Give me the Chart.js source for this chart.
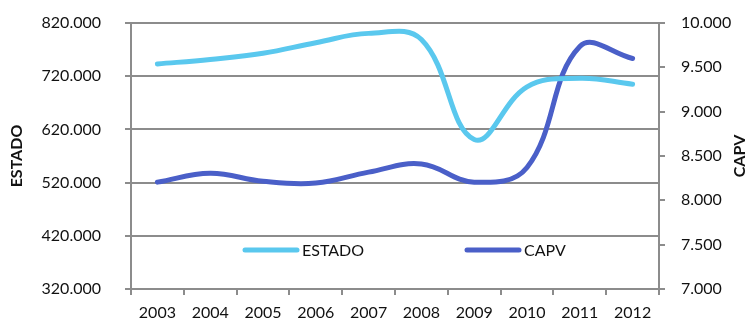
<!DOCTYPE html>
<html>
<head>
<meta charset="utf-8">
<script src="https://cdn.jsdelivr.net/npm/chart.js@4/dist/chart.umd.min.js"></script>
<style>
  html, body { margin: 0; padding: 0; background: #ffffff; }
  #wrap { width: 755px; height: 320px; position: relative; }
</style>
</head>
<body>
<div id="wrap"><canvas id="c" width="755" height="320"></canvas></div>
<script>
const years = ['2003','2004','2005','2006','2007','2008','2009','2010','2011','2012'];
const estado = [743000, 751500, 763000, 783000, 800500, 789000, 601000, 700000, 716000, 705000];
const capv = [8205, 8305, 8215, 8195, 8318, 8410, 8205, 8370, 9735, 9600];
const estadoTicks = [320000, 420000, 520000, 620000, 720000, 820000];
const capvTicks = [7000, 7500, 8000, 8500, 9000, 9500, 10000];
const axisTitles = ['ESTADO', 'CAPV'];

const FONT = 'Lato, "Open Sans", sans-serif';
const GRID = '#8c8c8c';
const fmt = v => Math.round(v).toString().replace(/\B(?=(\d{3})+(?!\d))/g, '.');
const noPad = s => { s.paddingTop = 0; s.paddingBottom = 0; s.paddingLeft = 0; s.paddingRight = 0; };

const extras = {
  id: 'extras',
  afterDatasetsDraw(chart) {
    const ctx = chart.ctx;
    const area = chart.chartArea;
    const y = 250;
    const starts = [243, 465];
    ctx.save();
    chart.data.datasets.forEach((ds, i) => {
      const x = starts[i];
      ctx.strokeStyle = ds.borderColor;
      ctx.lineWidth = 5;
      ctx.lineCap = 'round';
      ctx.beginPath();
      ctx.moveTo(x + 2, y);
      ctx.lineTo(x + 54, y);
      ctx.stroke();
      ctx.fillStyle = '#111111';
      ctx.font = '16px ' + FONT;
      ctx.textBaseline = 'middle';
      ctx.textAlign = 'left';
      ctx.fillText(ds.label, x + 59, y + 1);
    });
    const cy = (area.top + area.bottom) / 2;
    [[17, axisTitles[0]], [740, axisTitles[1]]].forEach(([tx, txt]) => {
      ctx.save();
      ctx.translate(tx, cy);
      ctx.rotate(-Math.PI / 2);
      ctx.font = 'bold 16px ' + FONT;
      ctx.fillStyle = '#111111';
      ctx.textAlign = 'center';
      ctx.textBaseline = 'middle';
      ctx.fillText(txt, 0, 0);
      ctx.restore();
    });
    ctx.restore();
  }
};

new Chart(document.getElementById('c'), {
  type: 'line',
  data: {
    labels: years,
    datasets: [
      { label: 'ESTADO', data: estado, yAxisID: 'y', borderColor: '#5AC8EE', backgroundColor: '#5AC8EE',
        borderWidth: 5, pointRadius: 0, tension: 0.4, borderCapStyle: 'round', fill: false },
      { label: 'CAPV', data: capv, yAxisID: 'y1', borderColor: '#4A5FC8', backgroundColor: '#4A5FC8',
        borderWidth: 5, pointRadius: 0, tension: 0.4, borderCapStyle: 'round', fill: false }
    ]
  },
  options: {
    responsive: false,
    animation: false,
    devicePixelRatio: 1,
    layout: { padding: { top: 23, left: 0, right: 0, bottom: 0 } },
    plugins: { legend: { display: false }, tooltip: { enabled: false } },
    scales: {
      x: {
        offset: true,
        afterFit(s) { s.height = 31; noPad(s); },
        grid: { display: true, offset: true, drawOnChartArea: false, drawTicks: true, tickLength: 6, color: GRID, lineWidth: 2 },
        border: { display: true, color: GRID, width: 2 },
        ticks: { color: '#111111', font: { family: FONT, size: 16 }, padding: 8, maxRotation: 0 }
      },
      y: {
        position: 'left',
        min: 320000, max: 820000,
        afterFit(s) { s.width = 131; noPad(s); },
        afterBuildTicks(s) { s.ticks = estadoTicks.map(v => ({ value: v })); },
        grid: { color: GRID, lineWidth: 2, drawTicks: true, tickLength: 6 },
        border: { display: true, color: GRID, width: 2 },
        ticks: { color: '#111111', font: { family: FONT, size: 16 }, padding: 24, callback: v => fmt(v) }
      },
      y1: {
        position: 'right',
        min: 7000, max: 10000,
        afterFit(s) { s.width = 96; noPad(s); },
        afterBuildTicks(s) { s.ticks = capvTicks.map(v => ({ value: v })); },
        grid: { drawOnChartArea: false, color: GRID, lineWidth: 2, drawTicks: true, tickLength: 6 },
        border: { display: true, color: GRID, width: 2 },
        ticks: { color: '#111111', font: { family: FONT, size: 16 }, padding: 16, callback: v => fmt(v) }
      }
    }
  },
  plugins: [extras]
});
</script>
</body>
</html>
